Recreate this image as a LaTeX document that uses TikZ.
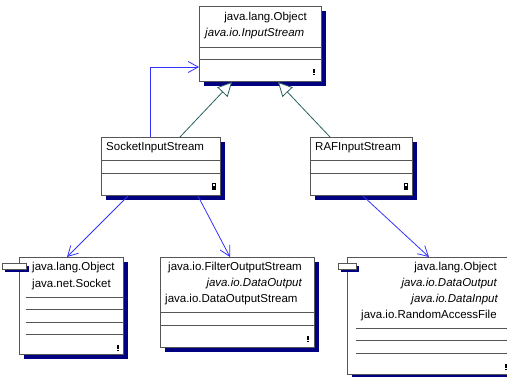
\documentclass[tikz,border=0pt]{standalone}
\usepackage{fontspec}
\setmainfont{Liberation Sans}
\usetikzlibrary{arrows.meta,shadows,calc}
\definecolor{navyshadow}{RGB}{0,0,128}
\definecolor{depblue}{RGB}{50,50,255}
\definecolor{genteal}{RGB}{40,95,95}
\definecolor{boxgray}{RGB}{85,85,85}
\begin{document}
\begin{tikzpicture}[x=1pt,y=-1pt,
  cls/.style={rectangle, draw=boxgray, line width=1pt, fill=white, inner sep=0pt,
    anchor=north west,
    general shadow={fill=navyshadow, shadow xshift=4pt, shadow yshift=-4pt}},
  tabbox/.style={rectangle, draw=boxgray, line width=1pt, fill=white, inner sep=0pt,
    anchor=north west,
    general shadow={fill=navyshadow, shadow xshift=2pt, shadow yshift=-2pt}},
  txt/.style={inner sep=0pt, font=\fontsize{11.5}{13}\selectfont},
  ittxt/.style={inner sep=0pt, font=\fontsize{11.5}{13}\selectfont\itshape},
  divline/.style={draw=boxgray, line width=0.9pt},
  dep/.style={draw=depblue, line width=0.8pt, -{Straight Barb[length=10pt,width=11pt]}},
  gen/.style={draw=genteal, line width=0.8pt, -{Triangle[open,length=14pt,width=14pt,fill=white]}},
  bang/.pic={\fill[black] (-0.6,-4) rectangle (0.6,0); \fill[black] (-0.6,1) rectangle (0.6,2.2);},
  padlock/.pic={\draw[black, line width=0.8pt] (-1.4,0) rectangle (1.4,-2.2);
                \fill[black] (-2.4,0) rectangle (2.4,3.6);}
]
\useasboundingbox (0,0) rectangle (507,376);
\clip (0,0) rectangle (507,376);

% class boxes
\node[cls, minimum width=122pt, minimum height=75pt] (top) at (199,6) {};
\node[cls, minimum width=119pt, minimum height=58pt] (sis) at (101,137) {};
\node[cls, minimum width=102pt, minimum height=58pt] (raf) at (310,137) {};
\node[cls, minimum width=104pt, minimum height=97pt] (sock) at (19,257) {};
\node[cls, minimum width=154pt, minimum height=90pt] (dos) at (160,257) {};
\node[cls, minimum width=172pt, minimum height=117pt] (rafile) at (347,257) {};

% component tabs
\node[tabbox, minimum width=24pt, minimum height=6pt] (socktab) at (2,263) {};
\node[tabbox, minimum width=18pt, minimum height=6pt] (rafiletab) at (338,263) {};

% compartment dividers
\draw[divline] ($(top.north west)+(0,41)$) -- ($(top.north east)+(0,41)$);
\draw[divline] ($(top.north west)+(0,53)$) -- ($(top.north east)+(0,53)$);
\draw[divline] ($(sis.north west)+(0,23)$) -- ($(sis.north east)+(0,23)$);
\draw[divline] ($(sis.north west)+(0,36)$) -- ($(sis.north east)+(0,36)$);
\draw[divline] ($(raf.north west)+(0,23)$) -- ($(raf.north east)+(0,23)$);
\draw[divline] ($(raf.north west)+(0,36)$) -- ($(raf.north east)+(0,36)$);
\foreach \dy in {40,52,65,77}
  \draw[divline] ($(sock.north west)+(7,\dy)$) -- ($(sock.north east)+(0,\dy)$);
\draw[divline] ($(dos.north west)+(0,55)$) -- ($(dos.north east)+(0,55)$);
\draw[divline] ($(dos.north west)+(0,68)$) -- ($(dos.north east)+(0,68)$);
\foreach \dy in {71,83,96}
  \draw[divline] ($(rafile.north west)+(9,\dy)$) -- ($(rafile.north east)+(0,\dy)$);

% texts
\node[txt, anchor=base east] (topsup) at (307,20) {java.lang.Object};
\node[ittxt, anchor=base west] (topname) at (205,36) {java.io.InputStream};
\node[txt, anchor=base west] (sisname) at (106,150) {SocketInputStream};
\node[txt, anchor=base west] (rafname) at (315,150) {RAFInputStream};
\node[txt, anchor=base west] (socksup) at (32,270) {java.lang.Object};
\node[txt, anchor=base west] (sockname) at (32,287) {java.net.Socket};
\node[txt, anchor=base west] (dossup) at (168,270) {java.io.FilterOutputStream};
\node[ittxt, anchor=base east] (dosif) at (302,286) {java.io.DataOutput};
\node[txt, anchor=base west] (dosname) at (165,302) {java.io.DataOutputStream};
\node[txt, anchor=base east] (rafsup) at (497,270) {java.lang.Object};
\node[ittxt, anchor=base east] (rafif1) at (497,286) {java.io.DataOutput};
\node[ittxt, anchor=base east] (rafif2) at (498,302) {java.io.DataInput};
\node[txt, anchor=base west] (rafilename) at (361,318) {java.io.RandomAccessFile};

% small icons
\pic at ($(top.south east)+(-8,-9)$) {bang};
\pic at ($(sock.south east)+(-6,-6)$) {bang};
\pic at ($(dos.south east)+(-7,-8)$) {bang};
\pic at ($(rafile.south west)+(159,-7)$) {bang};
\pic at ($(sis.south east)+(-7,-10)$) {padlock};
\pic at ($(raf.south east)+(-7,-10)$) {padlock};

% connectors
\draw[dep] ($(sis.north west)+(49,0)$) |- ($(top.north west)+(0,61)$);
\draw[gen] ($(sis.north west)+(79,0)$) -- ($(top.south west)+(33,0)$);
\draw[gen] ($(raf.north west)+(20,0)$) -- ($(top.south west)+(79,0)$);
\draw[dep] ($(sis.south west)+(27,0)$) -- ($(sock.north west)+(48,0)$);
\draw[dep] ($(sis.south west)+(97,0)$) -- ($(dos.north west)+(70,0)$);
\draw[dep] ($(raf.south west)+(53,0)$) -- ($(rafile.north west)+(82,0)$);
\end{tikzpicture}
\end{document}
